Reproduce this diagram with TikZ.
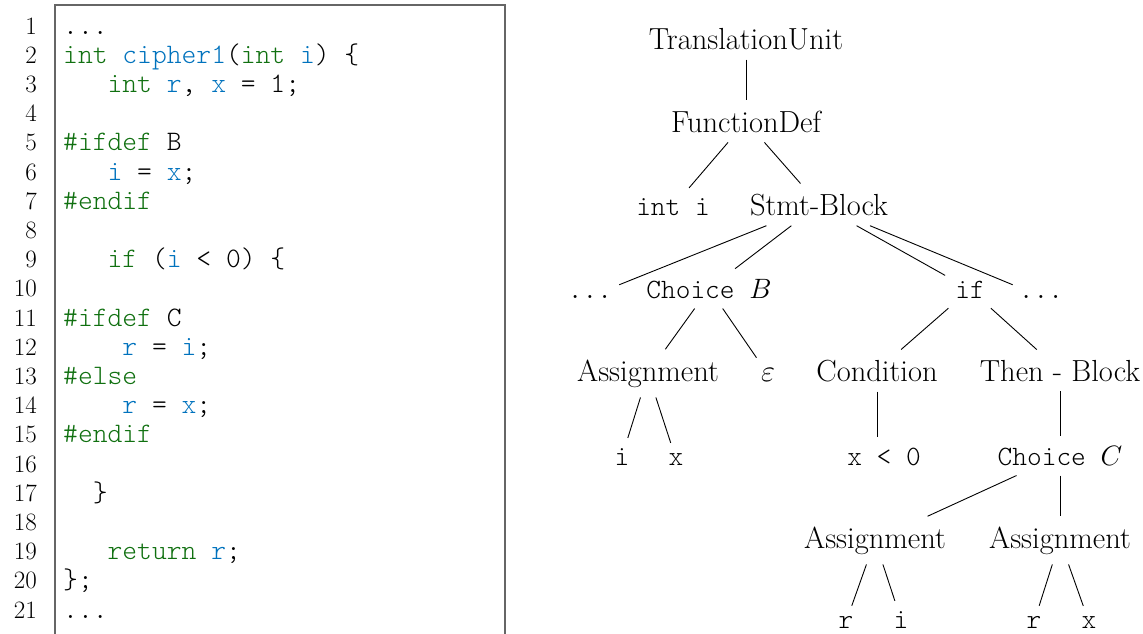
\RequirePackage{fix-cm}
\documentclass[tikz,border=0pt]{standalone}
\usepackage{fontspec}
\setmonofont{Latin Modern Mono Light}
\definecolor{kwgreen}{RGB}{16,112,16}
\definecolor{idblue}{RGB}{0,114,189}
\newcommand{\ckw}[1]{\textcolor{kwgreen}{#1}}
\newcommand{\cid}[1]{\textcolor{idblue}{#1}}
\newcommand{\treefont}{\fontsize{30.5}{36}\selectfont}
\newcommand{\treemono}{\fontsize{28}{33}\selectfont\ttfamily}
\newcommand{\codefont}{\fontsize{28.2}{33}\selectfont\ttfamily\frenchspacing}
\newcommand{\numfont}{\fontsize{25}{29}\selectfont}
\begin{document}
\begin{tikzpicture}[x=1pt,y=-1pt,
  lnum/.style={anchor=base east, inner sep=0pt, font=\numfont},
  cline/.style={anchor=base west, inner sep=0pt, font=\codefont},
  tsf/.style={anchor=base, inner sep=10pt, font=\treefont},
  tmono/.style={tsf, font=\treemono},
  link/.style={line width=0.9pt}]
\useasboundingbox (0,0) rectangle (1143,633);
\clip (0,0) rectangle (1143,633);

% listing frame (open at the bottom)
\draw[black!60, line width=1.4pt] (55,660) -- (55,5) -- (505,5) -- (505,660);

% line numbers
\foreach \n in {1,...,21}
  \node[lnum] (n\n) at (37,{34+(\n-1)*29.2}) {\n};

% source lines
\node[cline] (c1)  at (63,34)    {...};
\node[cline] (c2)  at (63,63.2)  {\ckw{int} \cid{cipher1}(\ckw{int} \cid{i}) \{};
\node[cline] (c3)  at (63,92.4)  {\ \ \ \ckw{int} \cid{r}, \cid{x} = 1;};
\node[cline] (c5)  at (63,150.8) {\ckw{\#ifdef} B};
\node[cline] (c6)  at (63,180)   {\ \ \ \cid{i} = \cid{x};};
\node[cline] (c7)  at (63,209.2) {\ckw{\#endif}};
\node[cline] (c9)  at (63,267.6) {\ \ \ \ckw{if} (\cid{i} < 0) \{};
\node[cline] (c11) at (63,326)   {\ckw{\#ifdef} C};
\node[cline] (c12) at (63,355.2) {\ \ \ \ \cid{r} = \cid{i};};
\node[cline] (c13) at (63,384.4) {\ckw{\#else}};
\node[cline] (c14) at (63,413.6) {\ \ \ \ \cid{r} = \cid{x};};
\node[cline] (c15) at (63,442.8) {\ckw{\#endif}};
\node[cline] (c17) at (63,501.2) {\ \ \}};
\node[cline] (c19) at (63,559.6) {\ \ \ \ckw{return} \cid{r};};
\node[cline] (c20) at (63,588.8) {\};};
\node[cline] (c21) at (63,618)   {...};

% syntax tree
\node[tsf]   (tu)   at (746,49)   {TranslationUnit};
\node[tsf]   (fd)   at (746,132)  {FunctionDef};
\node[tmono] (inti) at (673,215)  {int i};
\node[tsf]   (sb)   at (819,215)  {Stmt-Block};
\node[tmono] (d1)   at (590,298)  {...};
\node[tmono] (chb)  at (709,298)  {Choice $B$};
\node[tmono] (ifn)  at (970,298)  {if};
\node[tmono] (d2)   at (1041,298) {...};
\node[tsf]   (as1)  at (648,381)  {Assignment};
\node[tsf]   (eps)  at (768,381)  {$\varepsilon$};
\node[tsf]   (cond) at (877,381)  {Condition};
\node[tsf]   (then) at (1060,381) {Then - Block};
\node[tmono] (i1)   at (622,465)  {i};
\node[tmono] (x1)   at (676,465)  {x};
\node[tmono] (lt)   at (884,465)  {x < 0};
\node[tmono] (chc)  at (1060,465) {Choice $C$};
\node[tsf]   (as2)  at (875,548)  {Assignment};
\node[tsf]   (as3)  at (1060,548) {Assignment};
\node[tmono] (r2)   at (846,628)  {r};
\node[tmono] (i2)   at (901,628)  {i};
\node[tmono] (r3)   at (1034,628) {r};
\node[tmono] (x3)   at (1089,628) {x};

\draw[link] (tu) -- (fd);
\draw[link] (fd) -- (inti);
\draw[link] (fd) -- (sb);
\draw[link] (sb) -- (d1);
\draw[link] (sb) -- (chb);
\draw[link] (sb) -- (ifn);
\draw[link] (sb) -- (d2);
\draw[link] (chb) -- (as1);
\draw[link] (chb) -- (eps);
\draw[link] (ifn) -- (cond);
\draw[link] (ifn) -- (then);
\draw[link] (as1) -- (i1);
\draw[link] (as1) -- (x1);
\draw[link] (cond.south) -- (cond.south |- lt.north);
\draw[link] (then) -- (chc);
\draw[link] (chc) -- (as2);
\draw[link] (chc) -- (as3);
\draw[link] (as2) -- (r2);
\draw[link] (as2) -- (i2);
\draw[link] (as3) -- (r3);
\draw[link] (as3) -- (x3);
\end{tikzpicture}
\end{document}
